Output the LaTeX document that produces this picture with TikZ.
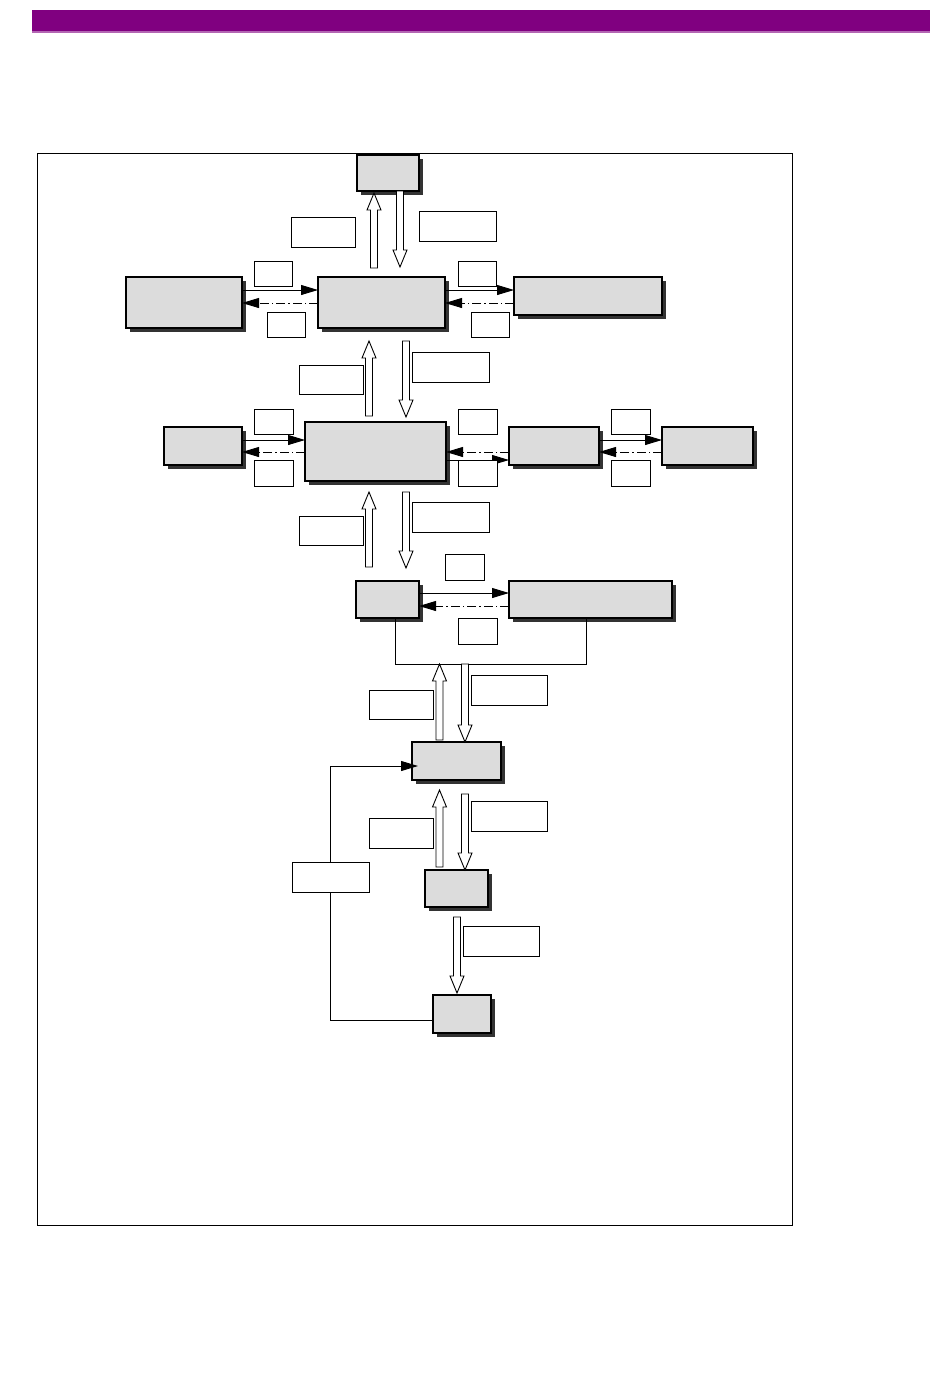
\documentclass[tikz,border=0pt]{standalone}
\usetikzlibrary{arrows.meta,shadows}
\definecolor{bandpurple}{HTML}{800080}
\definecolor{boxgray}{HTML}{DCDCDC}
\tikzset{
  gbox/.style={draw=black, line width=1.2pt, fill=boxgray, inner sep=0pt, outer sep=0pt,
    drop shadow={shadow xshift=4pt, shadow yshift=-4pt, fill=black!80, opacity=1}},
  lbox/.style={draw=black, line width=0.9pt, fill=white, inner sep=0pt, outer sep=0pt},
  solidarr/.style={line width=0.9pt, -{Triangle[length=17pt,width=10pt]}},
  ddarr/.style={line width=0.9pt, dash pattern=on 9pt off 3pt on 1.5pt off 3pt, -{Triangle[length=17pt,width=10pt]}},
  hollow/.style={draw=black, line width=0.9pt, fill=white},
  plainline/.style={line width=0.9pt}
}
\newcommand\gb[5]{\node[gbox, minimum width=#4pt, minimum height=#5pt] (#1) at (#2,#3) {};}
\newcommand\lb[5]{\node[lbox, minimum width={(#4-#2)*1pt}, minimum height={(#5-#3)*1pt}] (#1) at ({(#2+#4)/2},{(#3+#5)/2}) {};}
\newcommand\uarr[3]{\draw[hollow] ({#1-3.5},#3) -- ({#1-3.5},{#2+17}) -- ({#1-7},{#2+17}) -- (#1,#2) -- ({#1+7},{#2+17}) -- ({#1+3.5},{#2+17}) -- ({#1+3.5},#3) -- cycle;}
\newcommand\darr[3]{\draw[hollow] ({#1-3.5},#2) -- ({#1-3.5},{#3-17}) -- ({#1-7},{#3-17}) -- (#1,#3) -- ({#1+7},{#3-17}) -- ({#1+3.5},{#3-17}) -- ({#1+3.5},#2) -- cycle;}
\begin{document}
\begin{tikzpicture}[x=1pt,y=-1pt]
\useasboundingbox (0,0) rectangle (950,1387);
\fill[white] (0,0) rectangle (950,1387);
% band
\fill[bandpurple] (32,10) rectangle (930,32);
\fill[bandpurple!60] (32,31) rectangle (930,32.5);
% frame
\draw[line width=1pt] (37,153) rectangle (792,1225);

% boxes
\gb{T}{388}{173}{62}{36}
\gb{C1}{381.5}{302.5}{127}{51}
\gb{L1}{184}{302.5}{116}{51}
\gb{R1}{588}{296}{148}{38}
\gb{L2}{203}{446}{78}{38}
\gb{C2}{375.5}{451.5}{141}{59}
\gb{M2}{554}{446}{90}{38}
\gb{R2}{707.5}{446}{91}{38}
\gb{S3}{387.5}{599.5}{63}{37}
\gb{W3}{590.5}{599.5}{163}{37}
\gb{D4}{456.5}{761}{89}{38}
\gb{E5}{456.5}{888.5}{63}{37}
\gb{F6}{462}{1014}{58}{38}

% horizontal connectors row 1
\draw[solidarr] (L1.east |- 0,290) -- (C1.west |- 0,290);
\draw[ddarr] (C1.west |- 0,303) -- (L1.east |- 0,303);
\draw[solidarr] (C1.east |- 0,290) -- (R1.west |- 0,290);
\draw[ddarr] (R1.west |- 0,303) -- (C1.east |- 0,303);
% row 2
\draw[solidarr] (L2.east |- 0,440) -- (C2.west |- 0,440);
\draw[ddarr] (C2.west |- 0,452) -- (L2.east |- 0,452);
\draw[ddarr] (M2.west |- 0,452) -- (C2.east |- 0,452);
\draw[solidarr] (C2.east |- 0,460) -- (M2.west |- 0,460);
\draw[solidarr] (M2.east |- 0,440) -- (R2.west |- 0,440);
\draw[ddarr] (R2.west |- 0,452) -- (M2.east |- 0,452);
% row 3
\draw[solidarr] (S3.east |- 0,593) -- (W3.west |- 0,593);
\draw[ddarr] (W3.west |- 0,606) -- (S3.east |- 0,606);
% bracket under row 3
\coordinate (bl) at (395,664);
\coordinate (br) at (586,664);
\draw[plainline] (S3.south -| bl) -- (bl) -- (br) -- (W3.south -| br);
% feedback
\coordinate (fb1) at (330,1020);
\coordinate (fb2) at (330,766);
\draw[plainline] (F6.west |- fb1) -- (fb1) -- (fb2);
\draw[solidarr] (fb2) -- ([xshift=6pt]D4.west |- fb2);

% hollow block arrows
\uarr{374}{193}{268}
\darr{400}{191}{267}
\uarr{369}{341}{416}
\darr{406}{341}{417}
\uarr{369}{492}{567}
\darr{406}{492}{568}
\uarr{439.5}{664}{740}
\darr{465}{664}{742}
\uarr{439.5}{790}{867}
\darr{465}{794}{870}
\darr{457}{917}{993}

% label boxes
\lb{a1}{291}{217}{355}{247}
\lb{a2}{419}{211}{496}{241}
\lb{a3}{254}{261}{292}{286}
\lb{a4}{267}{312}{305}{337}
\lb{a5}{458}{261}{496}{286}
\lb{a6}{471}{312}{509}{337}
\lb{a7}{299}{365}{363}{394}
\lb{a8}{412}{352}{489}{382}
\lb{b1}{254}{409}{293}{434}
\lb{b2}{254}{460}{293}{486}
\lb{b3}{458}{409}{497}{434}
\lb{b4}{458}{460}{497}{486}
\lb{b5}{611}{409}{650}{434}
\lb{b6}{611}{460}{650}{486}
\lb{b7}{299}{516}{363}{545}
\lb{b8}{412}{502}{489}{532}
\lb{c1}{445}{554}{484}{580}
\lb{c2}{458}{618}{497}{644}
\lb{c3}{369}{690}{433}{719}
\lb{c4}{471}{675}{547}{705}
\lb{d1}{369}{818}{433}{848}
\lb{d2}{471}{801}{547}{831}
\lb{d3}{463}{926}{539}{956}
\lb{fb}{292}{862}{369}{892}
\end{tikzpicture}
\end{document}
